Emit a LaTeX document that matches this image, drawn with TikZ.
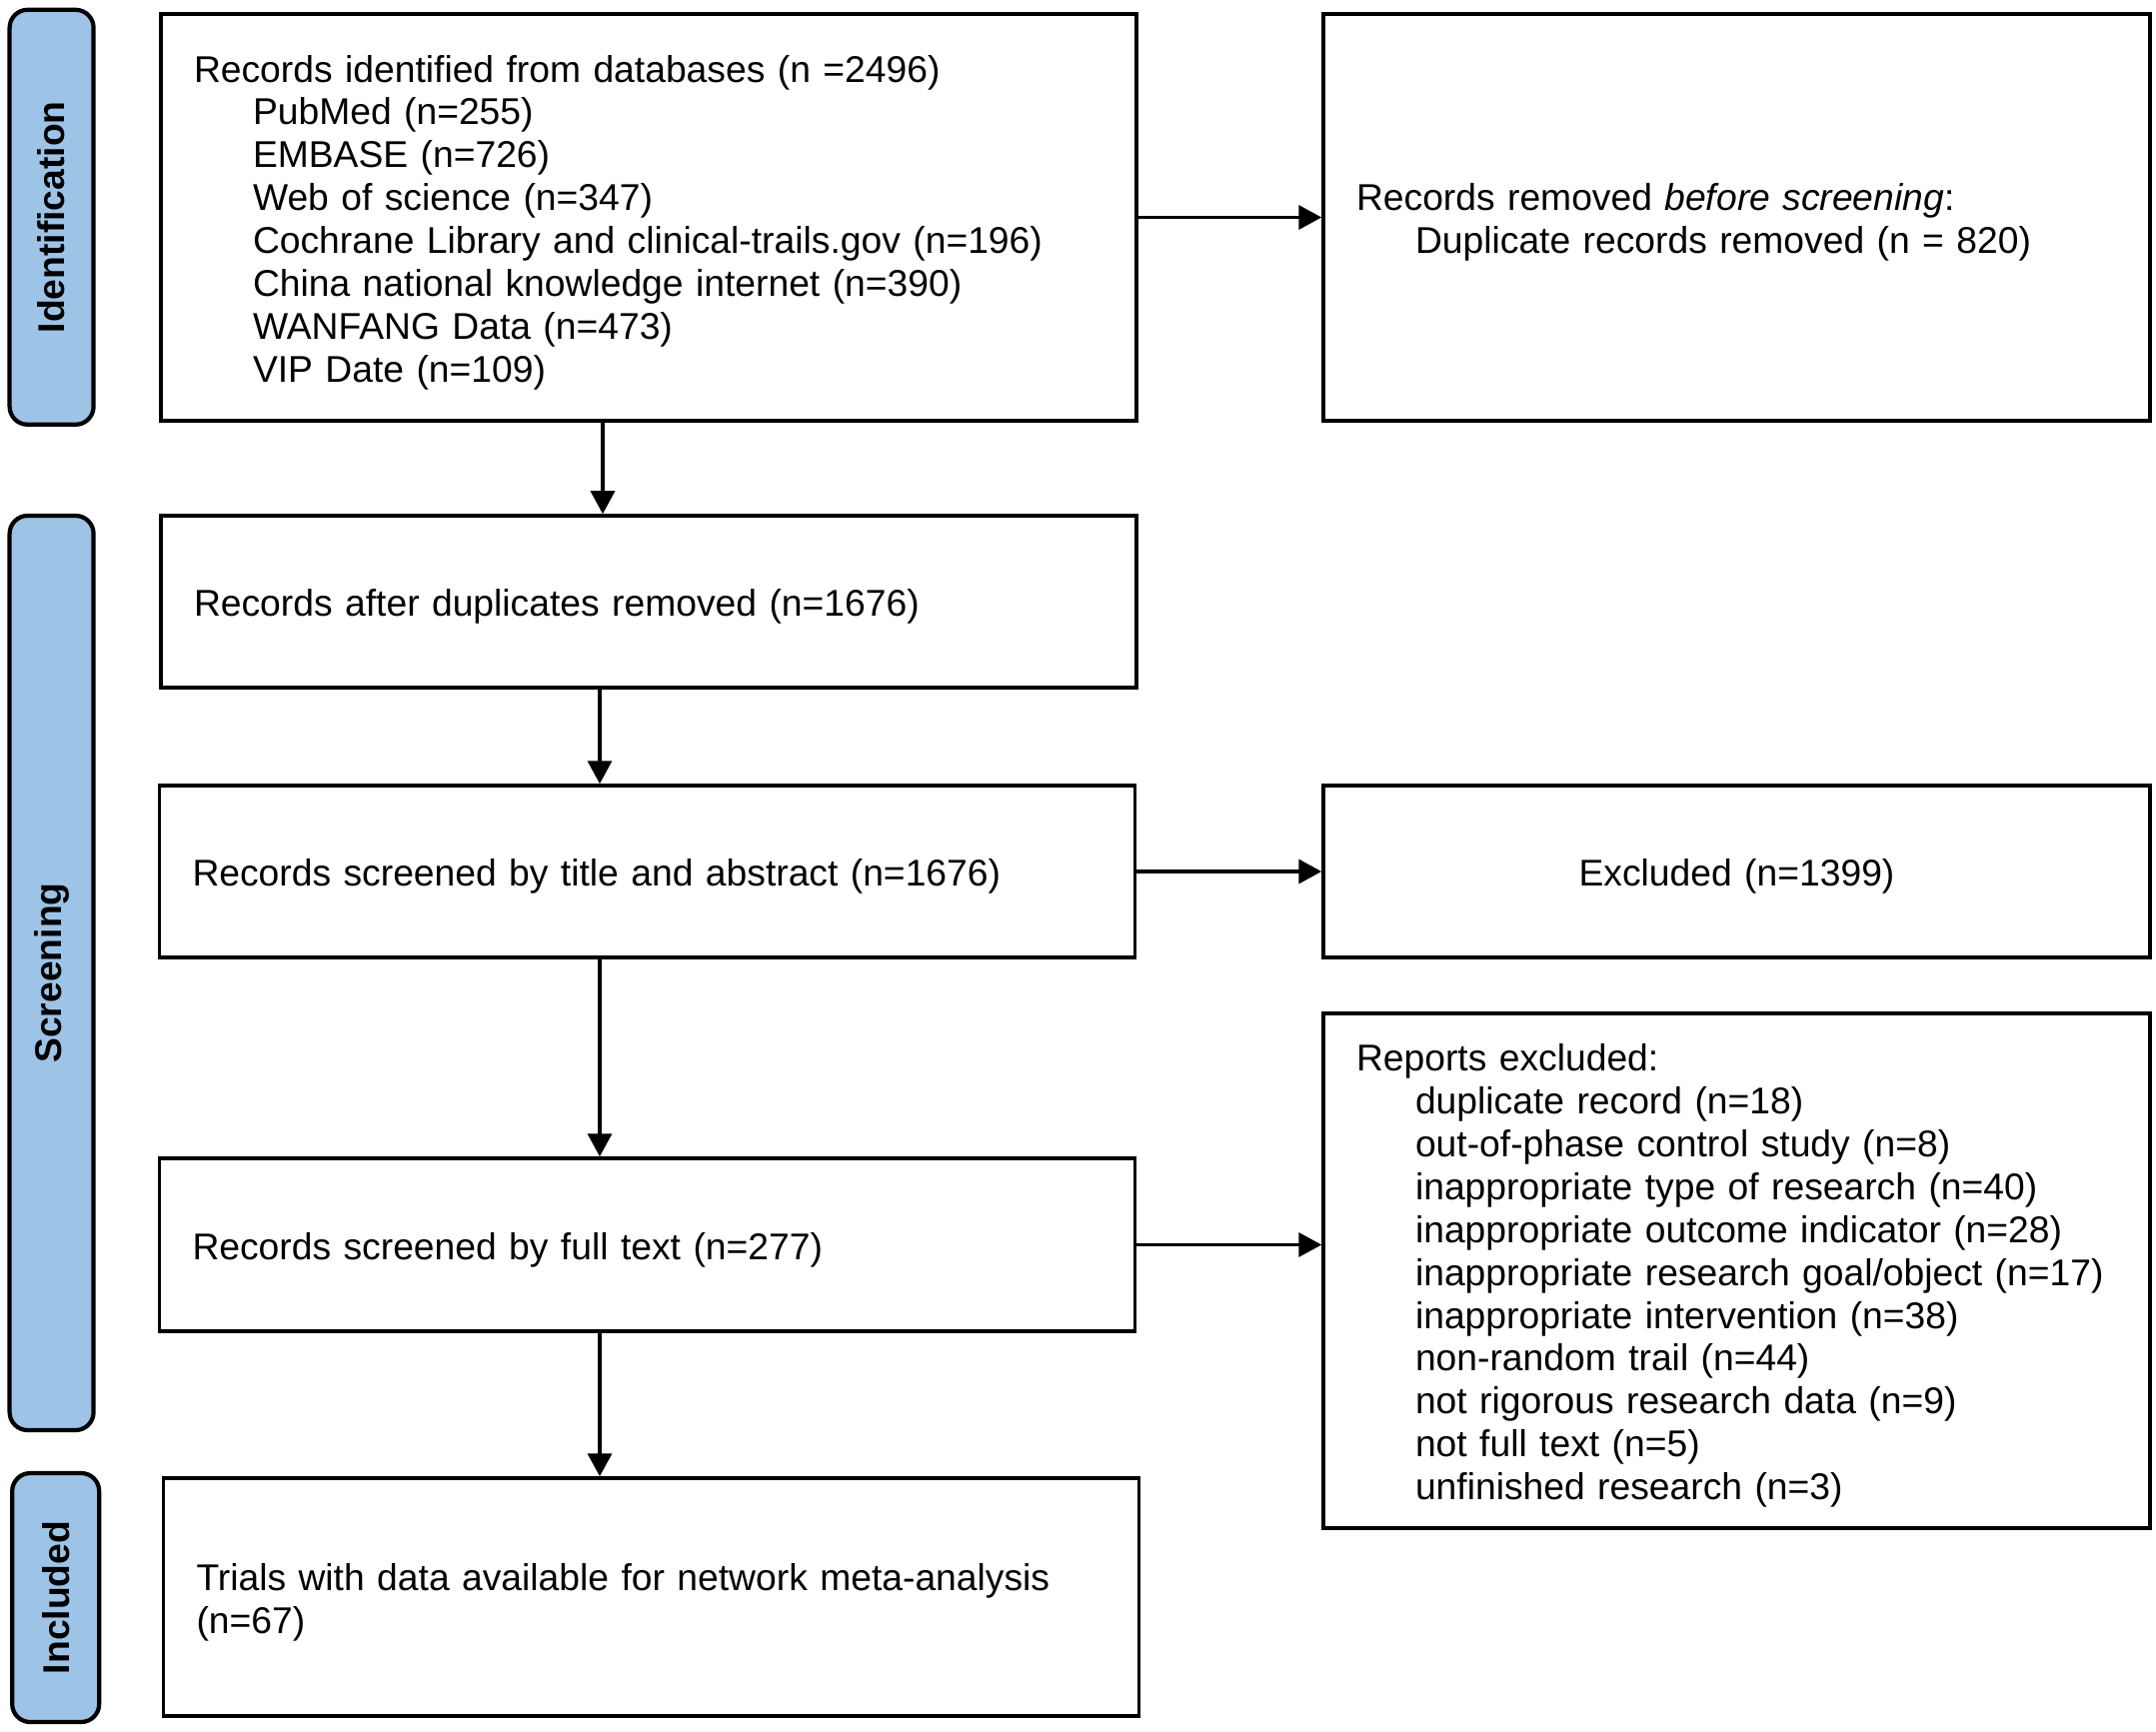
\documentclass[tikz,border=0pt]{standalone}
\usepackage{fontspec}
\setmainfont{Liberation Sans}
\usetikzlibrary{arrows.meta}
\definecolor{faseAzul}{RGB}{157,195,230}
\newcommand{\sangria}{\hspace*{5.9mm}}

\begin{document}
\begin{tikzpicture}[
        box/.style={draw, line width=1pt, align=left, inner xsep=3.3mm, inner ysep=0pt, font=\fontsize{10.6}{12.2}\selectfont, execute at begin node={\rule{0pt}{3.7mm}}},
        mainbox/.style={box, text width=9.1cm},
        sidebox/.style={box, text width=7.61cm},
        fase/.style={draw, line width=1.2pt, fill=faseAzul, rounded corners=1.8mm, rotate=90, inner sep=0pt, minimum height=0.84cm, font=\bfseries\fontsize{10.6}{12.2}\selectfont},
        arrow/.style={-{Triangle[length=2.3mm, width=2.4mm]}, line width=1pt}
    ]
    \useasboundingbox (0,0) rectangle (21.57,-17.32);
    % Fases
    \node[fase, minimum width=4.15cm] (faseIdentificacion) at (0.516,-2.173) {Identification};
    \node[fase, minimum width=9.15cm] (faseCribado) at (0.516,-9.735) {Screening};
    \node[fase, minimum width=2.49cm, minimum height=0.87cm] (faseInclusion) at (0.557,-15.985) {Included};
    % Cajas
    \node[mainbox, minimum height=4.07cm] (registrosIdentificados) at (6.49,-2.175) {Records identified from databases (n =2496)\\
        \sangria PubMed (n=255)\\
        \sangria EMBASE (n=726)\\
        \sangria Web of science (n=347)\\
        \sangria Cochrane Library and clinical-trails.gov (n=196)\\
        \sangria China national knowledge internet (n=390)\\
        \sangria WANFANG Data (n=473)\\
        \sangria VIP Date (n=109)};
    \node[sidebox, minimum height=4.07cm] (registrosEliminados) at (17.375,-2.175) {Records removed \textit{before screening}:\\
        \sangria Duplicate records removed (n = 820)};
    \node[mainbox, minimum height=1.72cm] (registrosSinDuplicados) at (6.49,-6.02) {Records after duplicates removed (n=1676)};
    \node[mainbox, minimum height=1.72cm] (cribadoTitulo) at (6.475,-8.72) {Records screened by title and abstract (n=1676)};
    \node[sidebox, minimum height=1.72cm, align=center] (excluidos) at (17.375,-8.72) {Excluded (n=1399)};
    \node[mainbox, minimum height=1.73cm] (cribadoTexto) at (6.475,-12.455) {Records screened by full text (n=277)};
    \node[sidebox, minimum height=5.15cm] (informesExcluidos) at (17.375,-12.715) {Reports excluded:\\
        \sangria duplicate record (n=18)\\
        \sangria out-of-phase control study (n=8)\\
        \sangria inappropriate type of research (n=40)\\
        \sangria inappropriate outcome indicator (n=28)\\
        \sangria inappropriate research goal/object (n=17)\\
        \sangria inappropriate intervention (n=38)\\
        \sangria non-random trail (n=44)\\
        \sangria not rigorous research data (n=9)\\
        \sangria not full text (n=5)\\
        \sangria unfinished research (n=3)};
    \node[mainbox, minimum height=2.38cm] (ensayosIncluidos) at (6.515,-15.98) {Trials with data available for network meta-analysis\\
        (n=67)};
    % Flechas
    \draw[arrow] (registrosIdentificados) -- (registrosEliminados);
    \draw[arrow] ([xshift=-0.46cm]registrosIdentificados.south) -- ([xshift=-0.46cm]registrosSinDuplicados.north);
    \draw[arrow] ([xshift=-0.49cm]registrosSinDuplicados.south) -- ([xshift=-0.49cm]registrosSinDuplicados.south |- cribadoTitulo.north);
    \draw[arrow] (cribadoTitulo) -- (excluidos);
    \draw[arrow] ([xshift=-0.49cm]registrosSinDuplicados.south |- cribadoTitulo.south) -- ([xshift=-0.49cm]registrosSinDuplicados.south |- cribadoTexto.north);
    \draw[arrow] (cribadoTexto.east) -- (cribadoTexto.east -| informesExcluidos.west);
    \draw[arrow] ([xshift=-0.49cm]registrosSinDuplicados.south |- cribadoTexto.south) -- ([xshift=-0.49cm]registrosSinDuplicados.south |- ensayosIncluidos.north);
\end{tikzpicture}
\end{document}
